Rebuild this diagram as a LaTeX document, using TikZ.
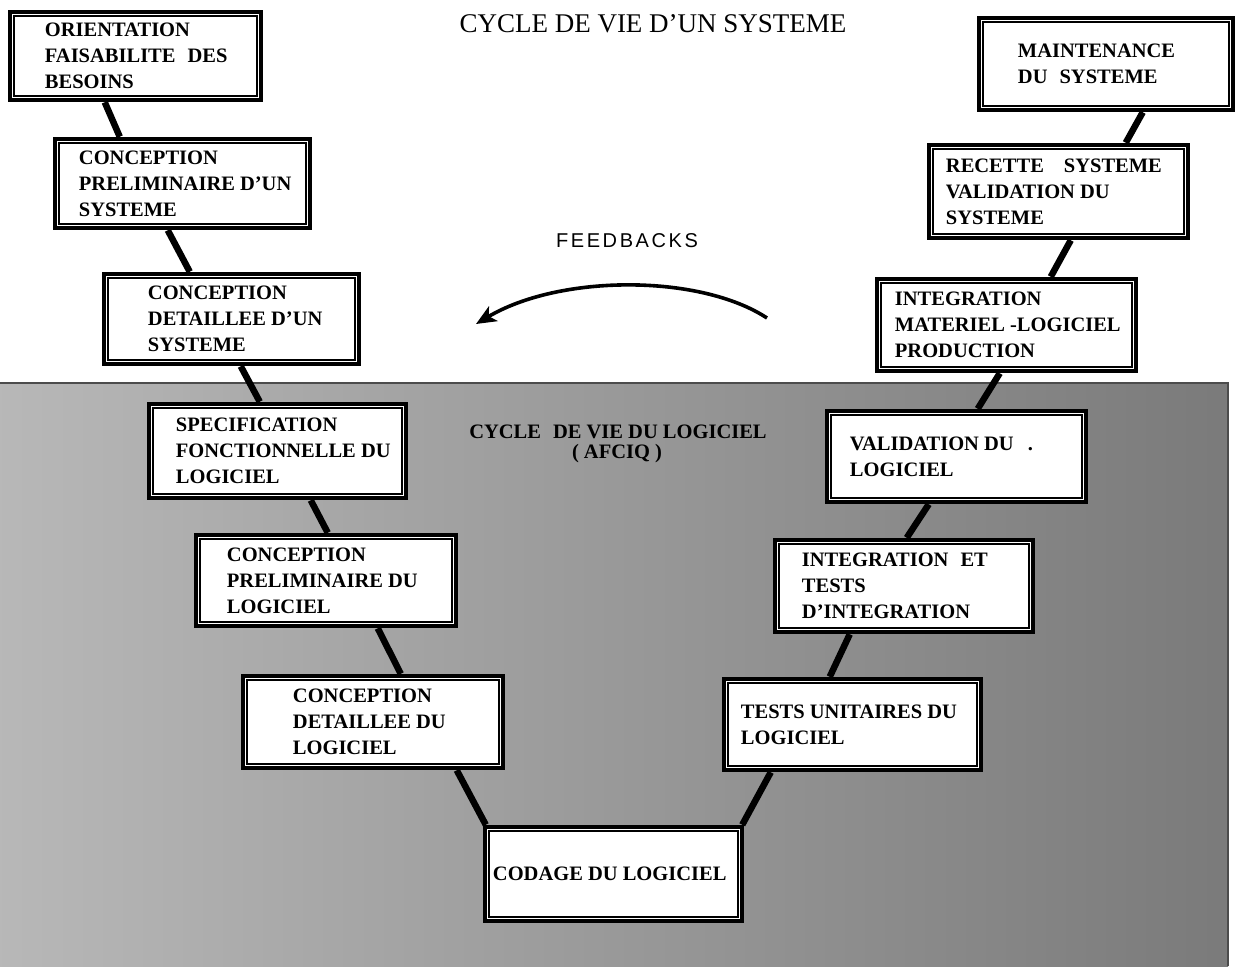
\documentclass[tikz,border=0pt]{standalone}
\usepackage{fontspec}
\setmainfont{Liberation Serif}
\newfontfamily\handfont[LetterSpace=13]{Liberation Sans}
\usetikzlibrary{calc,backgrounds,arrows.meta}

\begin{document}
\begin{tikzpicture}[x=1pt,y=-1pt,
  stage/.style={draw, line width=4.5pt, fill=white, inner sep=0pt},
  innerframe/.style={line width=1.6pt},
  lbl/.style={anchor=west, align=left, inner sep=0pt,
    font=\fontsize{20.5}{26}\selectfont\bfseries},
  link/.style={line width=6.5pt},
  feedback/.style={line width=3.6pt, -{Stealth[length=20pt,width=17pt,inset=5pt]}}]

\useasboundingbox (0,0) rectangle (1237,978);

% ---- stages of the V cycle (outer frame) ----
\node[stage, minimum width=251pt, minimum height=88pt] (o1)  at (135.5,56)   {};
\node[stage, minimum width=255pt, minimum height=89pt] (o2)  at (182.5,183.5) {};
\node[stage, minimum width=255pt, minimum height=90pt] (o3)  at (231.5,319)  {};
\node[stage, minimum width=257pt, minimum height=94pt] (o4)  at (277.5,451)  {};
\node[stage, minimum width=260pt, minimum height=91pt] (o5)  at (326,580.5)  {};
\node[stage, minimum width=260pt, minimum height=92pt] (o6)  at (373,722)    {};
\node[stage, minimum width=257pt, minimum height=94pt] (o7)  at (613.5,874)  {};
\node[stage, minimum width=257pt, minimum height=91pt] (o8)  at (852.5,724.5) {};
\node[stage, minimum width=258pt, minimum height=92pt] (o9)  at (904,586)    {};
\node[stage, minimum width=259pt, minimum height=91pt] (o10) at (956.5,456.5) {};
\node[stage, minimum width=259pt, minimum height=92pt] (o11) at (1006.5,325) {};
\node[stage, minimum width=259pt, minimum height=93pt] (o12) at (1058.5,191.5) {};
\node[stage, minimum width=254pt, minimum height=92pt] (o13) at (1106,64)    {};

% ---- inner thin frame of every stage ----
\foreach \n in {o1,o2,o3,o4,o5,o6,o7,o8,o9,o10,o11,o12,o13}
  \draw[innerframe] ($(\n.south west)+(6.5,-6.5)$) rectangle ($(\n.north east)+(-6.5,6.5)$);

% ---- stage texts ----
\node[lbl] (t1)  at ([xshift=37pt]o1.west)  {ORIENTATION\\FAISABILITE\hspace{12pt}DES\\BESOINS};
\node[lbl] (t2)  at ([xshift=26pt]o2.west)  {CONCEPTION\\PRELIMINAIRE D'UN\\SYSTEME};
\node[lbl] (t3)  at ([xshift=46pt]o3.west)  {CONCEPTION\\DETAILLEE D'UN\\SYSTEME};
\node[lbl] (t4)  at ([xshift=29pt]o4.west)  {SPECIFICATION\\FONCTIONNELLE DU\\LOGICIEL};
\node[lbl] (t5)  at ([xshift=33pt]o5.west)  {CONCEPTION\\PRELIMINAIRE DU\\LOGICIEL};
\node[lbl] (t6)  at ([xshift=52pt]o6.west)  {CONCEPTION\\DETAILLEE DU\\LOGICIEL};
\node[lbl] (t7)  at ([xshift=10pt]o7.west)  {CODAGE DU LOGICIEL};
\node[lbl] (t8)  at ([xshift=19pt]o8.west)  {TESTS UNITAIRES DU\\LOGICIEL};
\node[lbl] (t9)  at ([xshift=29pt]o9.west)  {INTEGRATION\hspace{12pt}ET\\TESTS\\D'INTEGRATION};
\node[lbl] (t10) at ([xshift=25pt]o10.west) {VALIDATION DU\hspace{14pt}.\\LOGICIEL};
\node[lbl] (t11) at ([xshift=20pt]o11.west) {INTEGRATION\\MATERIEL -LOGICIEL\\PRODUCTION};
\node[lbl] (t12) at ([xshift=19pt]o12.west) {RECETTE\hspace{20pt}SYSTEME\\VALIDATION DU\\SYSTEME};
\node[lbl] (t13) at ([xshift=41pt]o13.west) {MAINTENANCE\\DU\hspace{12pt}SYSTEME};

% ---- titles ----
\node[anchor=base, inner sep=0pt, font=\fontsize{27}{32}\selectfont] (title)
  at (653,32) {CYCLE DE VIE D'UN SYSTEME};
\node[anchor=base, inner sep=0pt, font=\fontsize{20.5}{24}\selectfont\bfseries] (swtitle)
  at (618,438) {CYCLE\hspace{12pt}DE VIE DU LOGICIEL};
\node[anchor=base, inner sep=0pt, font=\fontsize{20.5}{24}\selectfont\bfseries] (swsub)
  at (617,458) {( AFCIQ )};

% ---- feedback arrow ----
\coordinate (fbs) at (767,318);
\coordinate (fbe) at (476,324);
\draw[feedback] (fbs) .. controls (700,274) and (560,274) .. (fbe);
\node[anchor=base, inner sep=0pt, font=\handfont\fontsize{20}{24}\selectfont] (fbl)
  at (627,247) {FEEDBACKS};

% ---- background: software part and the connecting bars ----
\begin{scope}[on background layer]
  \shade[left color=black!28, right color=black!52] (0,383) rectangle (1228,966);
  \draw[black!70, line width=2pt] (0,383) -- (1228,383) -- (1228,966);

  \draw[link] ([xshift=97pt]o1.south west)  -- ([xshift=67pt]o2.north west);
  \draw[link] ([xshift=115pt]o2.south west) -- ([xshift=88pt]o3.north west);
  \draw[link] ([xshift=139pt]o3.south west) -- ([xshift=113pt]o4.north west);
  \draw[link] ([xshift=164pt]o4.south west) -- ([xshift=134pt]o5.north west);
  \draw[link] ([xshift=184pt]o5.south west) -- ([xshift=160pt]o6.north west);
  \draw[link] ([xshift=216pt]o6.south west) -- ([xshift=3pt]o7.north west);
  \draw[link] ([xshift=-2pt]o7.north east)  -- ([xshift=49pt]o8.south west);
  \draw[link] ([xshift=108pt]o8.north west) -- ([xshift=77pt]o9.south west);
  \draw[link] ([xshift=134pt]o9.north west) -- ([xshift=104pt]o10.south west);
  \draw[link] ([xshift=153pt]o10.north west) -- ([xshift=125pt]o11.south west);
  \draw[link] ([xshift=176pt]o11.north west) -- ([xshift=144pt]o12.south west);
  \draw[link] ([xshift=199pt]o12.north west) -- ([xshift=166pt]o13.south west);
\end{scope}
\end{tikzpicture}
\end{document}
